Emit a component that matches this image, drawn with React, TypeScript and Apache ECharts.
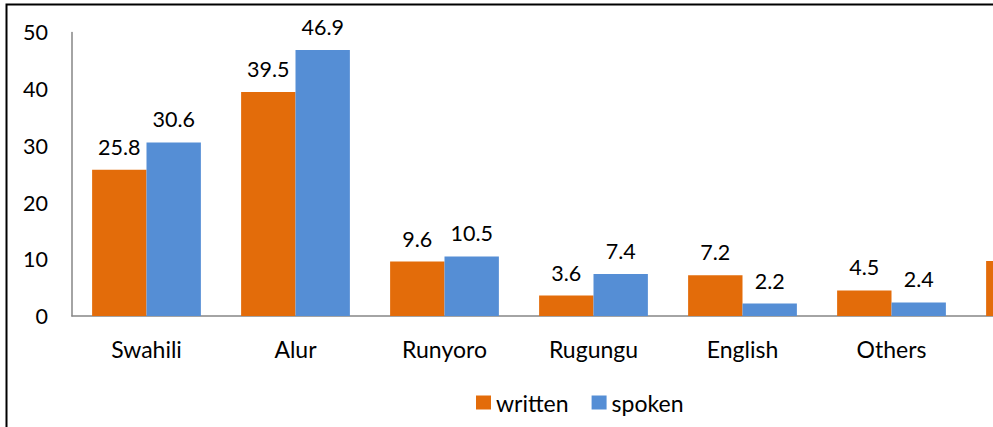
import React, { useEffect, useRef } from "react";
import * as echarts from "echarts";

const categories = ["Swahili", "Alur", "Runyoro", "Rugungu", "English", "Others", "None"];
const written = [25.8, 39.5, 9.6, 3.6, 7.2, 4.5, 9.7];
const spoken = [30.6, 46.9, 10.5, 7.4, 2.2, 2.4, 8.0];
const yTicks = [0, 10, 20, 30, 40, 50];
const visibleCount = 6;

const FONT = "Lato, 'Noto Sans', sans-serif";

export default function App() {
  const ref = useRef<HTMLDivElement>(null);
  useEffect(() => {
    if (!ref.current) return;
    const chart = echarts.init(ref.current, undefined, { renderer: "svg" });
    const labelStyle = {
      show: true,
      position: "top" as const,
      distance: 12,
      color: "#000",
      fontSize: 21.5,
      fontFamily: FONT,
      formatter: (p: any) => (p.dataIndex < visibleCount ? String(p.value) : ""),
    };
    chart.setOption({
      animation: false,
      backgroundColor: "#fff",
      textStyle: { fontFamily: FONT },
      graphic: [
        {
          type: "rect",
          shape: { x: 6.5, y: 4.5, width: 1400, height: 1000 },
          style: { fill: "none", stroke: "#000", lineWidth: 2 },
          silent: true,
        },
      ],
      legend: {
        left: 471,
        top: 386,
        itemWidth: 15,
        itemHeight: 14,
        itemGap: 23,
        icon: "rect",
        textStyle: { fontSize: 23, color: "#000", fontFamily: FONT },
        data: ["written", "spoken"],
      },
      grid: { left: 72, top: 32.4, width: 1043, bottom: 111 },
      xAxis: {
        type: "category",
        data: categories,
        axisLine: { lineStyle: { color: "#868686", width: 1.5 } },
        axisTick: { show: false },
        axisLabel: {
          color: "#000",
          fontSize: 23,
          fontFamily: FONT,
          margin: 21,
          formatter: (v: string, i: number) => (i < visibleCount ? v : ""),
        },
      },
      yAxis: {
        type: "value",
        min: yTicks[0],
        max: yTicks[yTicks.length - 1],
        interval: 10,
        splitLine: { show: false },
        axisLine: { show: true, lineStyle: { color: "#868686", width: 1.5 } },
        axisTick: { show: false },
        axisLabel: { color: "#000", fontSize: 21.5, fontFamily: FONT, margin: 24 },
      },
      series: [
        {
          name: "written",
          type: "bar",
          data: written,
          itemStyle: { color: "#E36C0A" },
          barGap: "0%",
          barCategoryGap: "27%",
          label: labelStyle,
        },
        {
          name: "spoken",
          type: "bar",
          data: spoken,
          itemStyle: { color: "#558ED5" },
          barGap: "0%",
          barCategoryGap: "27%",
          label: labelStyle,
        },
      ],
    });
    return () => chart.dispose();
  }, []);
  return (
    <div
      style={{
        position: "absolute",
        left: 0,
        top: 0,
        width: 993,
        height: 427,
        overflow: "hidden",
        background: "#fff",
      }}
    >
      <div ref={ref} style={{ width: 1200, height: 427 }} />
    </div>
  );
}
